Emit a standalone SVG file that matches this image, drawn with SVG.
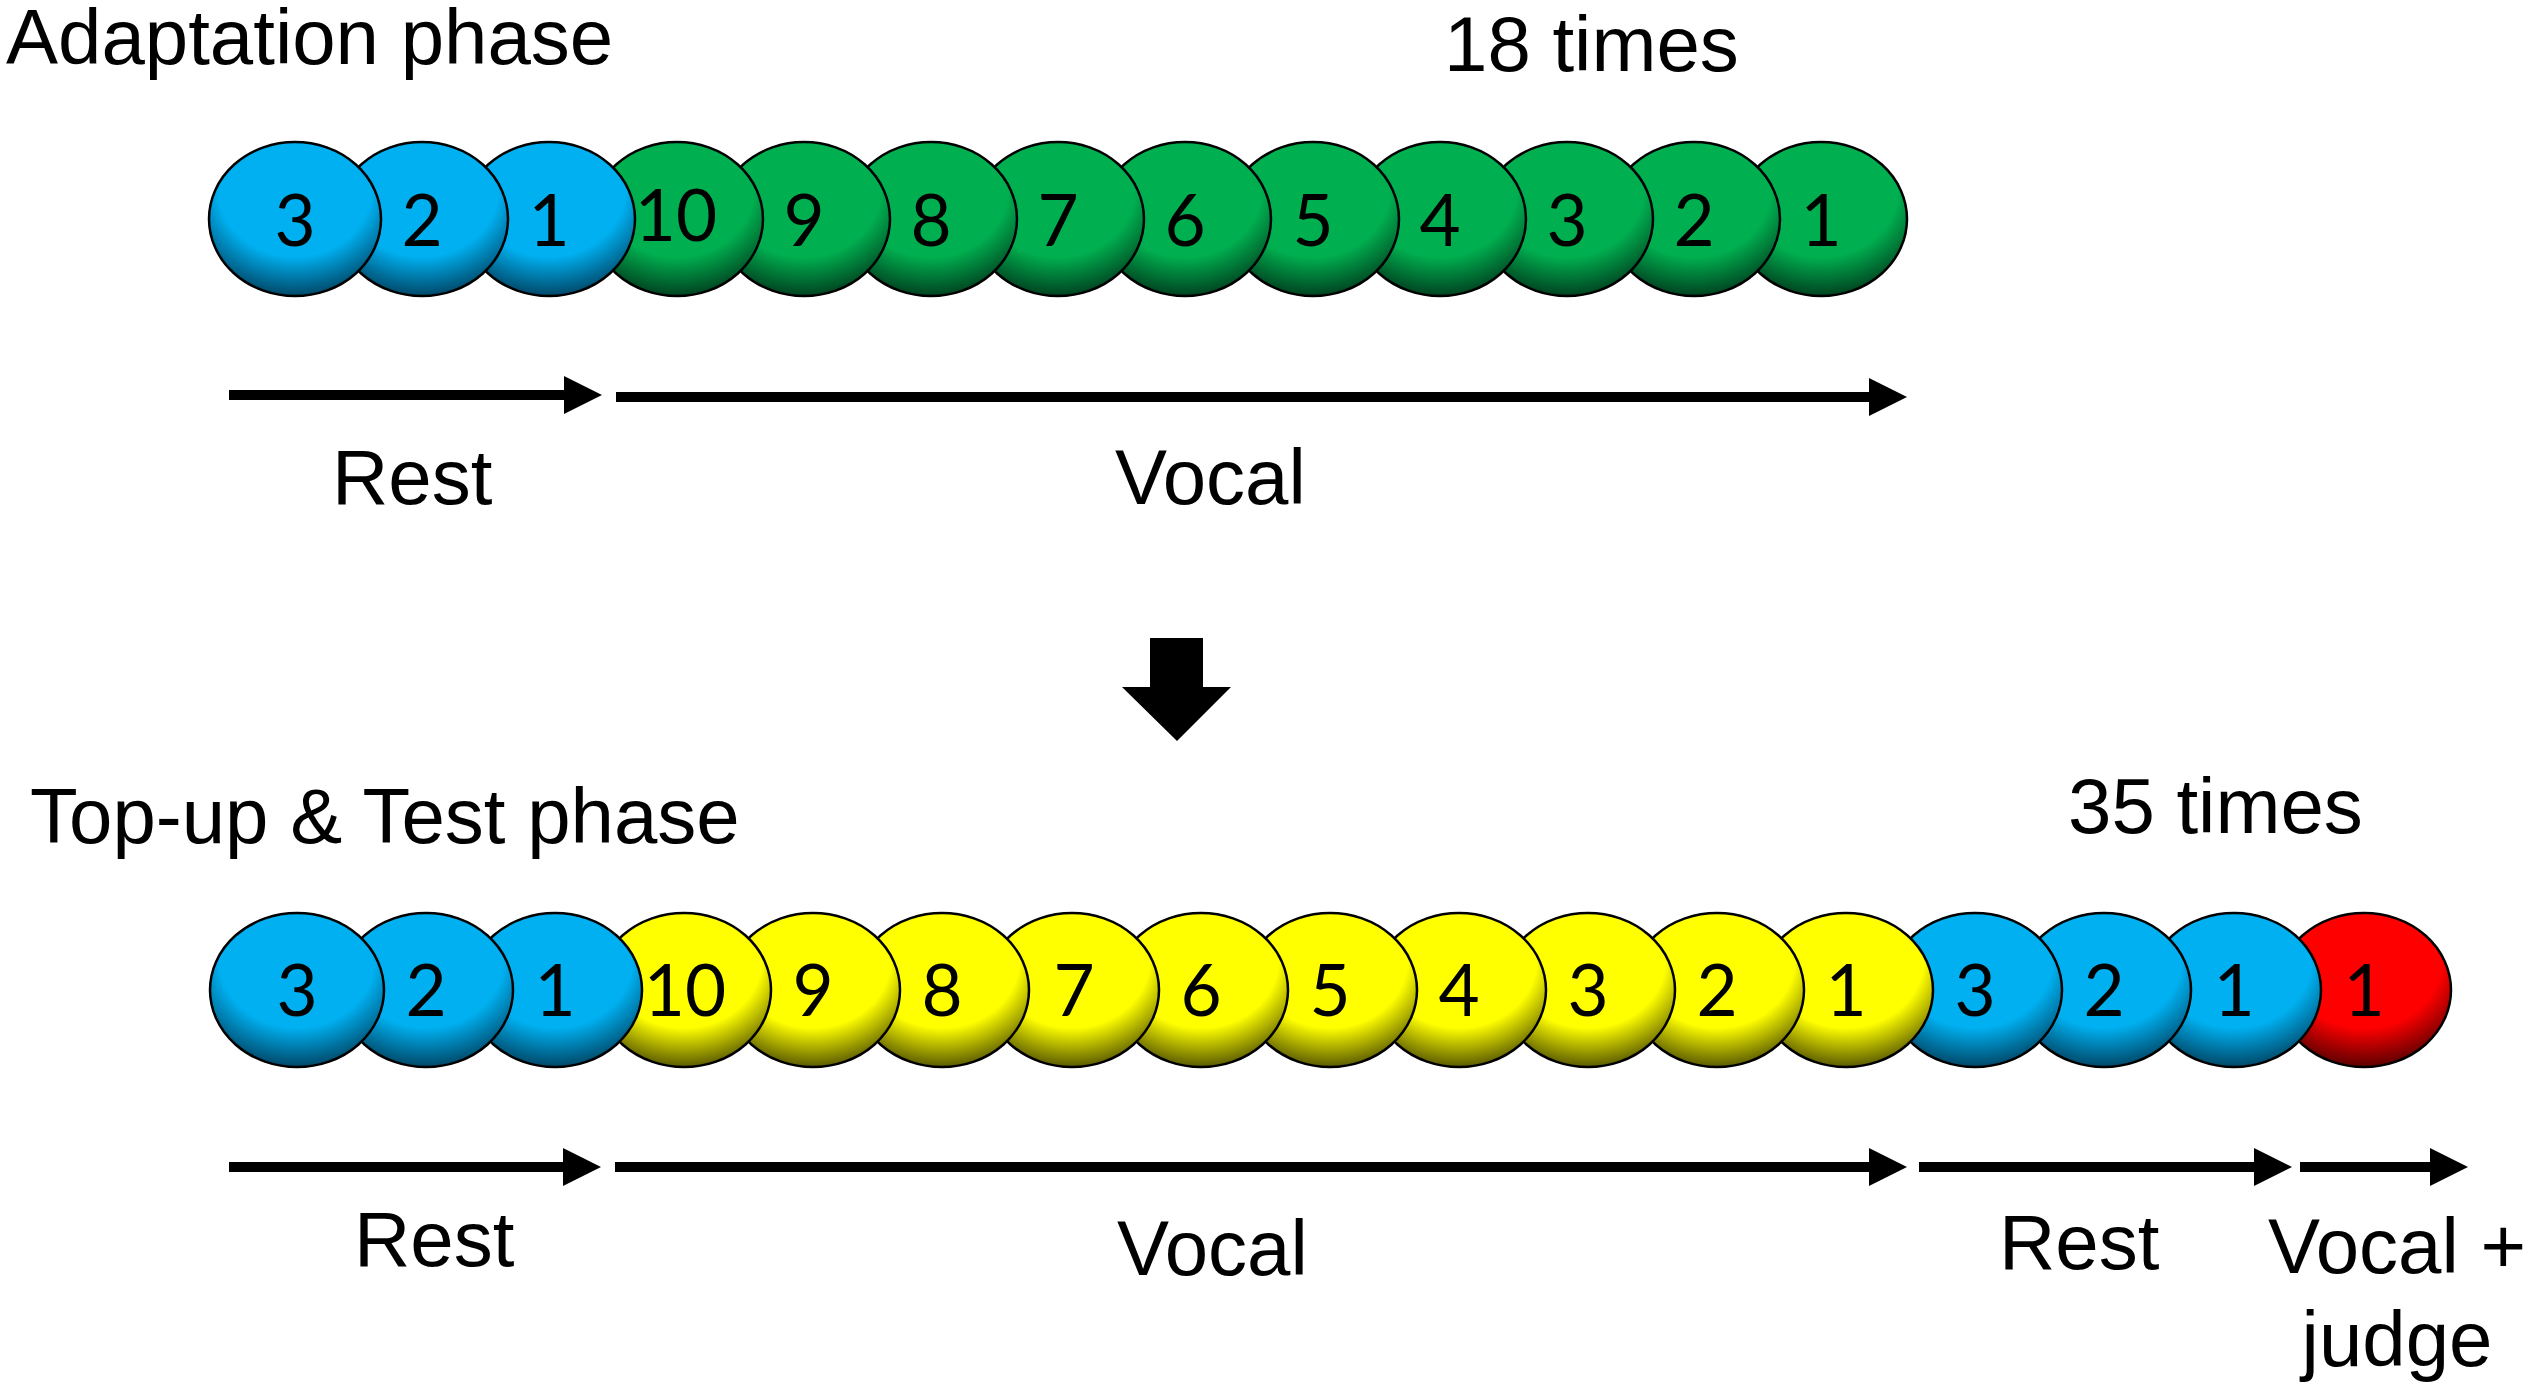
<svg xmlns="http://www.w3.org/2000/svg" width="2533" height="1392" viewBox="0 0 2533 1392">
<style>
.lbl{font-family:"Liberation Sans",Arial,sans-serif;font-size:78px;fill:#000}
.num{font-family:Lato,"DejaVu Sans",sans-serif;font-size:71px;fill:#000;text-anchor:middle}
.b{stroke:#000;stroke-width:2.5}
.blue{fill:url(#gBlue)}
.green{fill:url(#gGreen)}
.yellow{fill:url(#gYellow)}
.red{fill:url(#gRed)}
.arr{stroke:#000;stroke-width:10;fill:none;marker-end:url(#ah)}
</style>
<defs>
<radialGradient id="gBlue" cx="50%" cy="30%" r="72%"><stop offset="0" stop-color="#00B0F0"/><stop offset="0.62" stop-color="#00B0F0"/><stop offset="1" stop-color="#00405e"/></radialGradient>
<radialGradient id="gGreen" cx="50%" cy="30%" r="72%"><stop offset="0" stop-color="#00B050"/><stop offset="0.62" stop-color="#00B050"/><stop offset="1" stop-color="#003a1c"/></radialGradient>
<radialGradient id="gYellow" cx="50%" cy="30%" r="72%"><stop offset="0" stop-color="#FFFF00"/><stop offset="0.62" stop-color="#FFFF00"/><stop offset="1" stop-color="#4e4e00"/></radialGradient>
<radialGradient id="gRed" cx="50%" cy="30%" r="72%"><stop offset="0" stop-color="#FF0000"/><stop offset="0.62" stop-color="#FF0000"/><stop offset="1" stop-color="#500000"/></radialGradient>
<marker id="ah" viewBox="0 0 38 38" markerWidth="38" markerHeight="38" refX="8" refY="19" markerUnits="userSpaceOnUse" orient="auto"><path d="M0,0 L38,19 L0,38 z" fill="#000"/></marker>
</defs>
<rect width="2533" height="1392" fill="#fff"/>

<text class="lbl" x="6" y="64">Adaptation phase</text>
<text class="lbl" x="1444" y="71">18 times</text>
<text class="lbl" x="30" y="843">Top-up &amp; Test phase</text>
<text class="lbl" x="2068" y="833">35 times</text>

<g id="top-row">
<g id="t13"><ellipse class="b green" cx="1821" cy="219" rx="86" ry="77"/><text class="num" x="1821" y="246">1</text></g>
<g id="t12"><ellipse class="b green" cx="1694" cy="219" rx="86" ry="77"/><text class="num" x="1694" y="246">2</text></g>
<g id="t11"><ellipse class="b green" cx="1567" cy="219" rx="86" ry="77"/><text class="num" x="1567" y="246">3</text></g>
<g id="t10"><ellipse class="b green" cx="1440" cy="219" rx="86" ry="77"/><text class="num" x="1440" y="246">4</text></g>
<g id="t9"><ellipse class="b green" cx="1313" cy="219" rx="86" ry="77"/><text class="num" x="1313" y="246">5</text></g>
<g id="t8"><ellipse class="b green" cx="1185" cy="219" rx="86" ry="77"/><text class="num" x="1185" y="246">6</text></g>
<g id="t7"><ellipse class="b green" cx="1058" cy="219" rx="86" ry="77"/><text class="num" x="1058" y="246">7</text></g>
<g id="t6"><ellipse class="b green" cx="931" cy="219" rx="86" ry="77"/><text class="num" x="931" y="246">8</text></g>
<g id="t5"><ellipse class="b green" cx="804" cy="219" rx="86" ry="77"/><text class="num" x="804" y="246">9</text></g>
<g id="t4"><ellipse class="b green" cx="677" cy="219" rx="86" ry="77"/><text class="num" x="676" y="241">10</text></g>
<g id="t3"><ellipse class="b blue" cx="549" cy="219" rx="86" ry="77"/><text class="num" x="549" y="246">1</text></g>
<g id="t2"><ellipse class="b blue" cx="422" cy="219" rx="86" ry="77"/><text class="num" x="422" y="246">2</text></g>
<g id="t1"><ellipse class="b blue" cx="295" cy="219" rx="86" ry="77"/><text class="num" x="295" y="246">3</text></g>
</g>

<g id="bottom-row">
<g id="b17"><ellipse class="b red" cx="2364" cy="990" rx="87" ry="77"/><text class="num" x="2364" y="1016">1</text></g>
<g id="b16"><ellipse class="b blue" cx="2234" cy="990" rx="87" ry="77"/><text class="num" x="2234" y="1016">1</text></g>
<g id="b15"><ellipse class="b blue" cx="2104" cy="990" rx="87" ry="77"/><text class="num" x="2104" y="1016">2</text></g>
<g id="b14"><ellipse class="b blue" cx="1975" cy="990" rx="87" ry="77"/><text class="num" x="1975" y="1016">3</text></g>
<g id="b13"><ellipse class="b yellow" cx="1846" cy="990" rx="87" ry="77"/><text class="num" x="1846" y="1016">1</text></g>
<g id="b12"><ellipse class="b yellow" cx="1717" cy="990" rx="87" ry="77"/><text class="num" x="1717" y="1016">2</text></g>
<g id="b11"><ellipse class="b yellow" cx="1588" cy="990" rx="87" ry="77"/><text class="num" x="1588" y="1016">3</text></g>
<g id="b10"><ellipse class="b yellow" cx="1459" cy="990" rx="87" ry="77"/><text class="num" x="1459" y="1016">4</text></g>
<g id="b9"><ellipse class="b yellow" cx="1330" cy="990" rx="87" ry="77"/><text class="num" x="1330" y="1016">5</text></g>
<g id="b8"><ellipse class="b yellow" cx="1201" cy="990" rx="87" ry="77"/><text class="num" x="1201" y="1016">6</text></g>
<g id="b7"><ellipse class="b yellow" cx="1072" cy="990" rx="87" ry="77"/><text class="num" x="1074" y="1016">7</text></g>
<g id="b6"><ellipse class="b yellow" cx="942" cy="990" rx="87" ry="77"/><text class="num" x="942" y="1016">8</text></g>
<g id="b5"><ellipse class="b yellow" cx="813" cy="990" rx="87" ry="77"/><text class="num" x="813" y="1016">9</text></g>
<g id="b4"><ellipse class="b yellow" cx="684" cy="990" rx="87" ry="77"/><text class="num" x="685" y="1016">10</text></g>
<g id="b3"><ellipse class="b blue" cx="555" cy="990" rx="87" ry="77"/><text class="num" x="555" y="1016">1</text></g>
<g id="b2"><ellipse class="b blue" cx="426" cy="990" rx="87" ry="77"/><text class="num" x="426" y="1016">2</text></g>
<g id="b1"><ellipse class="b blue" cx="297" cy="990" rx="87" ry="77"/><text class="num" x="297" y="1016">3</text></g>
</g>

<g id="connectors">
<path class="arr" d="M229,395 H572"/>
<path class="arr" d="M616,397 H1877"/>
<path class="arr" d="M229,1167 H571"/>
<path class="arr" d="M615,1167 H1877"/>
<path class="arr" d="M1919,1167 H2262"/>
<path class="arr" d="M2300,1167 H2438"/>
<polygon points="1150,638 1203,638 1203,687 1231,687 1177,741 1122,687 1150,687" fill="#000"/>
</g>

<g id="labels">
<text class="lbl" x="332" y="504">Rest</text>
<text class="lbl" x="1115" y="504">Vocal</text>
<text class="lbl" x="354" y="1266">Rest</text>
<text class="lbl" x="1117" y="1275">Vocal</text>
<text class="lbl" x="1999" y="1269">Rest</text>
<text class="lbl" x="2397" y="1273" text-anchor="middle">Vocal +</text>
<text class="lbl" x="2397" y="1366" text-anchor="middle">judge</text>
</g>
</svg>
